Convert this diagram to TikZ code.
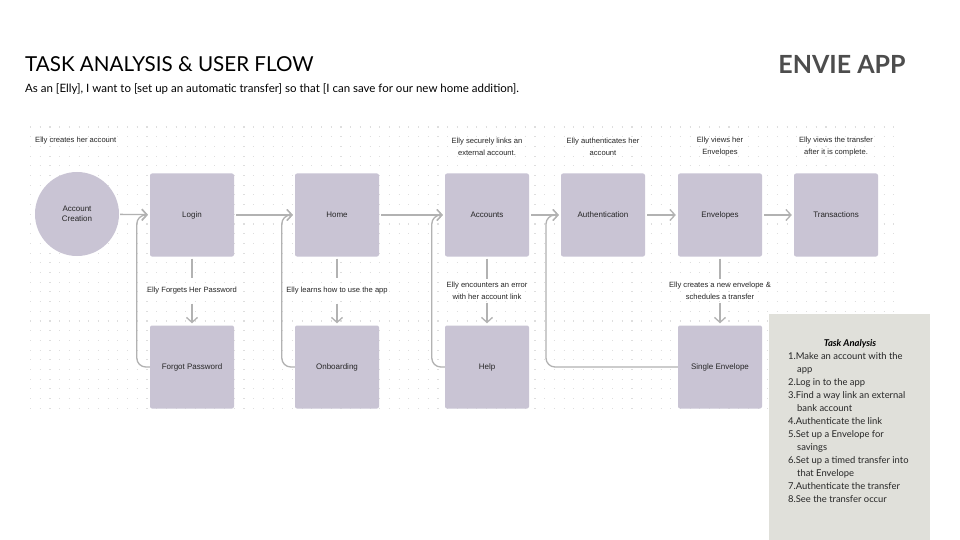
\documentclass[tikz,border=0pt]{standalone}
\usepackage{fontspec}
\setmainfont{Liberation Sans}
\newfontfamily\headfont{Lato}
\usetikzlibrary{arrows.meta}

\definecolor{screenfill}{RGB}{201,196,212}
\definecolor{flowline}{RGB}{178,178,178}
\definecolor{gridDot}{RGB}{222,222,222}
\definecolor{panelfill}{RGB}{224,224,218}
\definecolor{brand}{RGB}{77,77,77}

\begin{document}
\begin{tikzpicture}[x=1pt,y=-1pt,
  screen/.style={rectangle,fill=screenfill,rounded corners=2pt,minimum width=84pt,minimum height=83pt,inner sep=0pt,font=\fontsize{8}{9.5}\selectfont,text=black!85},
  note/.style={font=\fontsize{7.6}{12}\selectfont,align=center,text=black!85,inner sep=1pt},
  flow/.style={draw=flowline,line width=1.3pt,-{Straight Barb[length=5pt,width=11pt]},shorten >=2pt},
  link/.style={draw=flowline,line width=1.3pt},
  item/.style={anchor=base west,inner sep=0pt,font=\headfont\fontsize{9.4}{13}\selectfont,text=black!85}]
  \useasboundingbox[fill=white] (0,0) rectangle (960,540);
  % dot grid
  \foreach \i in {0,...,29}
    \draw[gridDot,line width=1.1pt,dash pattern=on 1.1pt off 8.6pt] (30,{127+9.7*\i}) -- (900,{127+9.7*\i});
  % titles
  \node[anchor=base west,inner sep=0pt,font=\headfont\fontsize{20.6}{24}\selectfont] (title) at(25,72){TASK ANALYSIS \& USER FLOW};
  \node[anchor=base west,inner sep=0pt,font=\headfont\fontsize{11.5}{14}\selectfont] (story) at(25,93){As an [Elly], I want to [set up an automatic transfer] so that [I can save for our new home addition].};
  \node[anchor=base,inner sep=0pt,font=\headfont\bfseries\fontsize{25}{30}\selectfont,text=brand] (app) at(842,74){ENVIE APP};
  % top notes
  \node[note,anchor=west] (n1) at(34,141){Elly creates her account};
  \node[note] (n2) at(487,147){Elly securely links an\\external account.};
  \node[note] (n3) at(603,147){Elly authenticates her\\account};
  \node[note] (n4) at(720,147){Elly views her\\Envelopes};
  \node[note] (n5) at(836,147){Elly views the transfer\\after it is complete.};
  % main row
  \node[screen,shape=circle,minimum size=84pt,align=center] (create) at(77,214){Account\\Creation};
  \node[screen] (login) at(192,215){Login};
  \node[screen] (home) at(337,215){Home};
  \node[screen] (accounts) at(487,215){Accounts};
  \node[screen] (auth) at(603,215){Authentication};
  \node[screen] (envelopes) at(720,215){Envelopes};
  \node[screen] (transactions) at(836,215){Transactions};
  % second row
  \node[screen] (forgot) at(192,367){Forgot Password};
  \node[screen] (onboard) at(337,367){Onboarding};
  \node[screen] (help) at(487,367){Help};
  \node[screen] (single) at(720,367){Single Envelope};
  % branch notes
  \node[note] (b1) at(192,291){Elly Forgets Her Password};
  \node[note] (b2) at(337,291){Elly learns how to use the app};
  \node[note] (b3) at(487,291){Elly encounters an error\\with her account link};
  \node[note] (b4) at(720,291){Elly creates a new envelope \&\\schedules a transfer};
  % arrows
  \draw[flow,shorten <=1pt] (create) -- (login);
  \draw[flow,shorten <=2pt] (login) -- (home);
  \draw[flow,shorten <=2pt] (home) -- (accounts);
  \draw[flow,shorten <=2pt] (accounts) -- (auth);
  \draw[flow,shorten <=2pt] (auth) -- (envelopes);
  \draw[flow,shorten <=2pt] (envelopes) -- (transactions);
  % branches down
  \draw[link,shorten <=2pt,shorten >=8pt] (login) -- (b1);
  \draw[flow,shorten <=8pt] (b1) -- (forgot);
  \draw[link,shorten <=2pt,shorten >=8pt] (home) -- (b2);
  \draw[flow,shorten <=8pt] (b2) -- (onboard);
  \draw[link,shorten <=2pt,shorten >=2pt] (accounts) -- (b3);
  \draw[flow,shorten <=2pt] (b3) -- (help);
  \draw[link,shorten <=2pt,shorten >=2pt] (envelopes) -- (b4);
  \draw[flow,shorten <=2pt] (b4) -- (single);
  % loops back
  \draw[flow,rounded corners=9pt] (forgot.west) -- ++(-13,0) |- (login.west);
  \draw[flow,rounded corners=9pt] (onboard.west) -- ++(-13,0) |- (home.west);
  \draw[flow,rounded corners=9pt] (help.west) -- ++(-13,0) |- (accounts.west);
  \draw[flow,rounded corners=9pt] (single.west) -- (546,367) |- (auth.west);
  % task analysis panel
  \node[fill=panelfill,minimum width=161pt,minimum height=226pt,anchor=north west,inner sep=0pt] (panel) at(769,314){};
  \node[anchor=base,inner sep=0pt,font=\headfont\bfseries\itshape\fontsize{9.4}{13}\selectfont] (ptitle) at(850,346){Task Analysis};
  \node[item] (t1) at(788,359){1.Make an account with the};
  \node[item] (t1b) at(797,372){app};
  \node[item] (t2) at(788,385){2.Log in to the app};
  \node[item] (t3) at(788,398){3.Find a way link an external};
  \node[item] (t3b) at(797,411){bank account};
  \node[item] (t4) at(788,424){4.Authenticate the link};
  \node[item] (t5) at(788,437){5.Set up a Envelope for};
  \node[item] (t5b) at(797,450){savings};
  \node[item] (t6) at(788,463){6.Set up a timed transfer into};
  \node[item] (t6b) at(797,476){that Envelope};
  \node[item] (t7) at(788,489){7.Authenticate the transfer};
  \node[item] (t8) at(788,502){8.See the transfer occur};
\end{tikzpicture}
\end{document}
